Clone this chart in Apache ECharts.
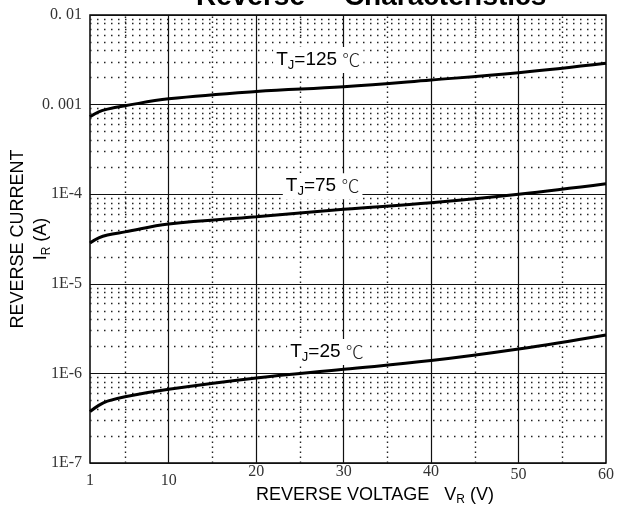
<!DOCTYPE html>
<html><head><meta charset="utf-8">
<script src="https://cdn.jsdelivr.net/npm/echarts@6/dist/echarts.min.js"></script>
<style>html,body{margin:0;padding:0;background:#fff}#c{width:617px;height:514px}</style>
</head><body><div id="c"></div>
<script>
// ---- data ----
const vr    = [1, 2, 3, 5, 10, 20, 30, 40, 50, 60];
const ir125 = [7.3e-4, 8.3e-4, 8.9e-4, 9.7e-4, 1.16e-3, 1.40e-3, 1.58e-3, 1.88e-3, 2.27e-3, 2.89e-3];
const ir75  = [2.85e-5, 3.25e-5, 3.5e-5, 3.8e-5, 4.65e-5, 5.6e-5, 6.78e-5, 8.04e-5, 1.0e-4, 1.31e-4];
const ir25  = [3.74e-7, 4.4e-7, 4.9e-7, 5.5e-7, 6.65e-7, 8.9e-7, 1.11e-6, 1.39e-6, 1.87e-6, 2.68e-6];
const curveTemps = ['125', '75', '25'];
const labelVr = [27.1, 27.6, 28.1];
const labelIr = [3.15e-3, 1.23e-4, 1.73e-6];
const yTickValues = [1e-7, 1e-6, 1e-5, 1e-4, 1e-3, 1e-2];
const yTickLabels = ['1E-7', '1E-6', '1E-5', '1E-4', '0. 001', '0. 01'];
const xTickValues = [1, 10, 20, 30, 40, 50, 60];
const xTickLabels = ['1', '10', '20', '30', '40', '50', '60'];
const xMinorGrid = [5, 15, 25, 35, 45, 55];
const yMinorMult = [2, 3, 4, 5, 6, 7, 8, 9];
const yDecades = [1e-7, 1e-6, 1e-5, 1e-4, 1e-3];

// per-label vertical style (the reference prints labels at uneven heights)
const xLabelStyle = ['lo', 'lo', 'hi', 'hi', 'hi', 'mid', 'mid'];

const X0 = 1, X1 = 60, Y0 = 1e-7, Y1 = 1e-2;
const pairs = arr => vr.map((v, i) => [v, arr[i]]);
const minorLines = [];
yDecades.forEach(d => yMinorMult.forEach(k => minorLines.push([
  {coord: [X0, k * d], lineStyle: {type: [1.5, 5.5], color: '#222', width: 1.4}},
  {coord: [X1, k * d]}
])));
xMinorGrid.forEach(x => minorLines.push([
  {coord: [x, Y0], lineStyle: {type: [1.5, 3.5], color: '#222', width: 1.4}},
  {coord: [x, Y1]}
]));
const majorLines = [];
xTickValues.slice(1, -1).forEach(x => majorLines.push([
  {coord: [x, Y0], lineStyle: {type: 'solid', color: '#111', width: 1.2}},
  {coord: [x, Y1]}
]));

const curveRich = {
  t: {fontFamily: 'Liberation Sans', fontSize: 19, color: '#000'},
  j: {fontFamily: 'Liberation Sans', fontSize: 13, color: '#000', padding: [11, 0, 0, 0]},
  c: {fontFamily: 'Noto Sans CJK SC', fontSize: 18, color: '#222', fontWeight: 300}
};
function curveSeries(name, arr, idx) {
  return {
    type: 'line', name, data: pairs(arr), smooth: 0.4, showSymbol: false, z: 5,
    lineStyle: {color: '#000', width: 3}, silent: true, animation: false,
    markPoint: {
      symbol: 'circle', symbolSize: 1, itemStyle: {color: 'rgba(0,0,0,0)'}, silent: true, animation: false,
      data: [{coord: [labelVr[idx], labelIr[idx]]}],
      label: {
        show: true, position: 'inside', backgroundColor: '#fff', padding: [1, 3, 1, 3],
        formatter: '{t|T}{j|J}{t|=' + curveTemps[idx] + ' }{c|℃}', rich: curveRich
      }
    }
  };
}

const xLabelFont = {fontFamily: 'Liberation Serif', fontSize: 16, color: '#333'};
const chart = echarts.init(document.getElementById('c'), null, {renderer: 'canvas'});
chart.setOption({
  backgroundColor: '#fff',
  animation: false,
  title: {
    text: 'Reverse     Characteristics', left: 191, top: -22,
    textStyle: {fontFamily: 'Liberation Sans', fontWeight: 'bold', fontSize: 28, color: '#000'}
  },
  grid: {left: 90, right: 11, top: 15, bottom: 51, containLabel: false, outerBoundsMode: 'none',
    show: true, borderColor: '#000', borderWidth: 1.5, backgroundColor: 'transparent'},
  xAxis: {
    type: 'value', min: X0, max: X1,
    axisLine: {show: false},
    axisTick: {show: false, customValues: xTickValues},
    splitLine: {show: false},
    axisLabel: {
      margin: 1, fontFamily: 'Liberation Serif', fontSize: 16, color: '#333',
      customValues: xTickValues,
      formatter: v => {
        const i = xTickValues.indexOf(v);
        return i >= 0 ? '{' + xLabelStyle[i] + '|' + xTickLabels[i] + '}' : '';
      },
      rich: {
        lo: Object.assign({padding: [9, 0, 0, 0]}, xLabelFont),
        mid: Object.assign({padding: [3, 0, 0, 0]}, xLabelFont),
        hi: Object.assign({padding: [0, 0, 0, 0]}, xLabelFont)
      }
    },
    name: '{m|REVERSE VOLTAGE   V}{s|R}{m| (V)}', nameLocation: 'middle', nameGap: 21, nameMoveOverlap: false,
    nameTextStyle: {
      padding: [0, 0, 0, 54],
      rich: {
        m: {fontFamily: 'Liberation Sans', fontSize: 18, color: '#000'},
        s: {fontFamily: 'Liberation Sans', fontSize: 12, color: '#000', padding: [10, 0, 0, 0]}
      }
    }
  },
  yAxis: {
    type: 'log', logBase: 10, min: Y0, max: Y1,
    axisLine: {show: false}, axisTick: {show: false},
    splitLine: {show: true, lineStyle: {color: '#111', width: 1.2}},
    axisLabel: {
      margin: 8, fontFamily: 'Liberation Serif', fontSize: 16, color: '#333',
      formatter: v => {
        const i = yTickValues.findIndex(t => Math.abs(Math.log10(t) - Math.log10(v)) < 1e-6);
        return i >= 0 ? yTickLabels[i] : '';
      }
    },
    name: '{m|REVERSE CURRENT}\n{m|I}{s|R}{m| (A)}', nameLocation: 'middle', nameGap: 37, nameRotate: 90,
    nameMoveOverlap: false,
    nameTextStyle: {
      lineHeight: 23,
      rich: {
        m: {fontFamily: 'Liberation Sans', fontSize: 18, color: '#000', lineHeight: 23},
        s: {fontFamily: 'Liberation Sans', fontSize: 12, color: '#000', padding: [10, 0, 0, 0], lineHeight: 23}
      }
    }
  },
  series: [
    {
      type: 'line', data: [], z: 1, silent: true, animation: false,
      markLine: {symbol: ['none', 'none'], silent: true, animation: false, label: {show: false},
        data: minorLines.concat(majorLines)}
    },
    curveSeries('125', ir125, 0),
    curveSeries('75', ir75, 1),
    curveSeries('25', ir25, 2)
  ]
});
</script></body></html>
